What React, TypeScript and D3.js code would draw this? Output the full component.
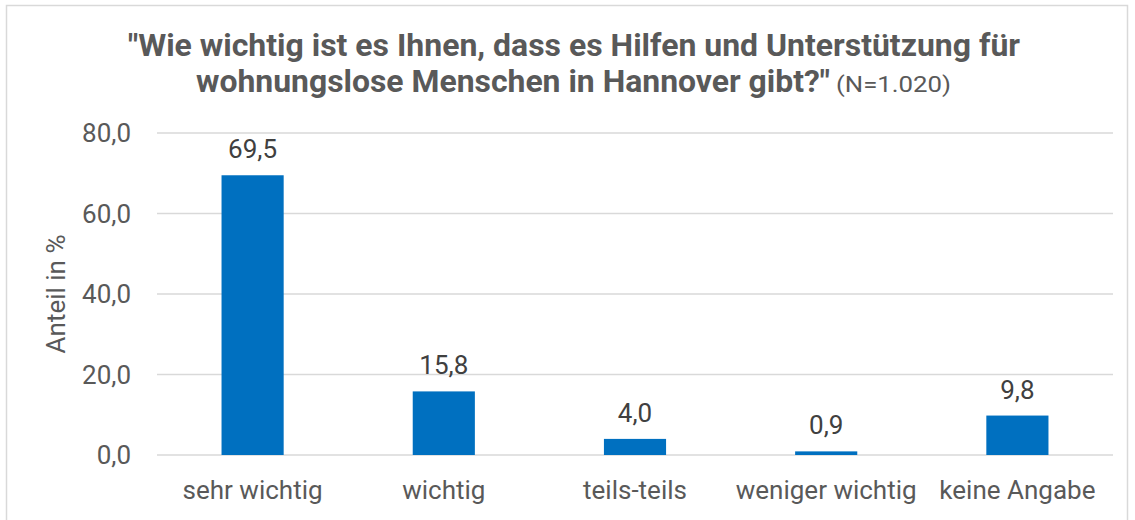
import React from "react";
import * as d3 from "d3";

const categories = ["sehr wichtig", "wichtig", "teils-teils", "weniger wichtig", "keine Angabe"];
const values = [69.5, 15.8, 4.0, 0.9, 9.8];
const yTicks = [0, 20, 40, 60, 80];
const titleLine1 = "\"Wie wichtig ist es Ihnen, dass es Hilfen und Unterstützung für";
const titleLine2 = "wohnungslose Menschen in Hannover gibt?\"";
const titleNote = "(N=1.020)";
const yLabel = "Anteil in %";

const W = 1135, H = 520;
const left = 157, right = 1113, top = 133, bottom = 455;
const fmt = (v: number) => v.toFixed(1).replace(".", ",");

export default function App() {
  const x = d3.scaleBand().domain(categories).range([left, right]).paddingInner(0.675).paddingOuter(0.3375);
  const y = d3.scaleLinear().domain([0, 80]).range([bottom, top]);
  const txt = "#595959";
  const font = "Roboto, 'Noto Sans', sans-serif";
  const tfont = "Roboto, sans-serif";
  return (
    <svg width={W} height={H} style={{ position: "absolute", left: 0, top: 0, background: "#fff" }}>
      <rect x={6.5} y={5.5} width={1121} height={520} fill="#fff" stroke="#d9d9d9" strokeWidth={1.5} />
      <text x={574} y={56} textAnchor="middle" fontFamily={tfont} fontWeight="bold" fontSize={31} fill={txt}
        textLength={892} lengthAdjust="spacingAndGlyphs">{titleLine1}</text>
      <text x={196} y={92} fontFamily={tfont} fontWeight="bold" fontSize={31} fill={txt}
        textLength={634} lengthAdjust="spacingAndGlyphs">{titleLine2}</text>
      <text x={836} y={92} fontFamily={tfont} fontSize={22} fill={txt}
        textLength={115} lengthAdjust="spacingAndGlyphs">{titleNote}</text>
      {yTicks.map(t => (
        <g key={t}>
          <line x1={left} x2={right} y1={y(t)} y2={y(t)} stroke="#d9d9d9" strokeWidth={1.5} />
          <text x={131} y={y(t)} dy="0.35em" textAnchor="end" fontFamily={font} fontSize={26} fill={txt}>{fmt(t)}</text>
        </g>
      ))}
      <text transform={`translate(65,${294}) rotate(-90)`} textAnchor="middle" fontFamily={font} fontSize={26} fill={txt}>{yLabel}</text>
      {categories.map((c, i) => (
        <g key={c}>
          <rect x={x(c)!} y={y(values[i])} width={x.bandwidth()} height={bottom - y(values[i])} fill="#0070C0" />
          <text x={x(c)! + x.bandwidth() / 2} y={y(values[i]) - 17} textAnchor="middle" fontFamily={font} fontSize={26} fill="#404040">{fmt(values[i])}</text>
          <text x={x(c)! + x.bandwidth() / 2} y={499} textAnchor="middle" fontFamily={font} fontSize={26} fill={txt}>{c}</text>
        </g>
      ))}
    </svg>
  );
}
